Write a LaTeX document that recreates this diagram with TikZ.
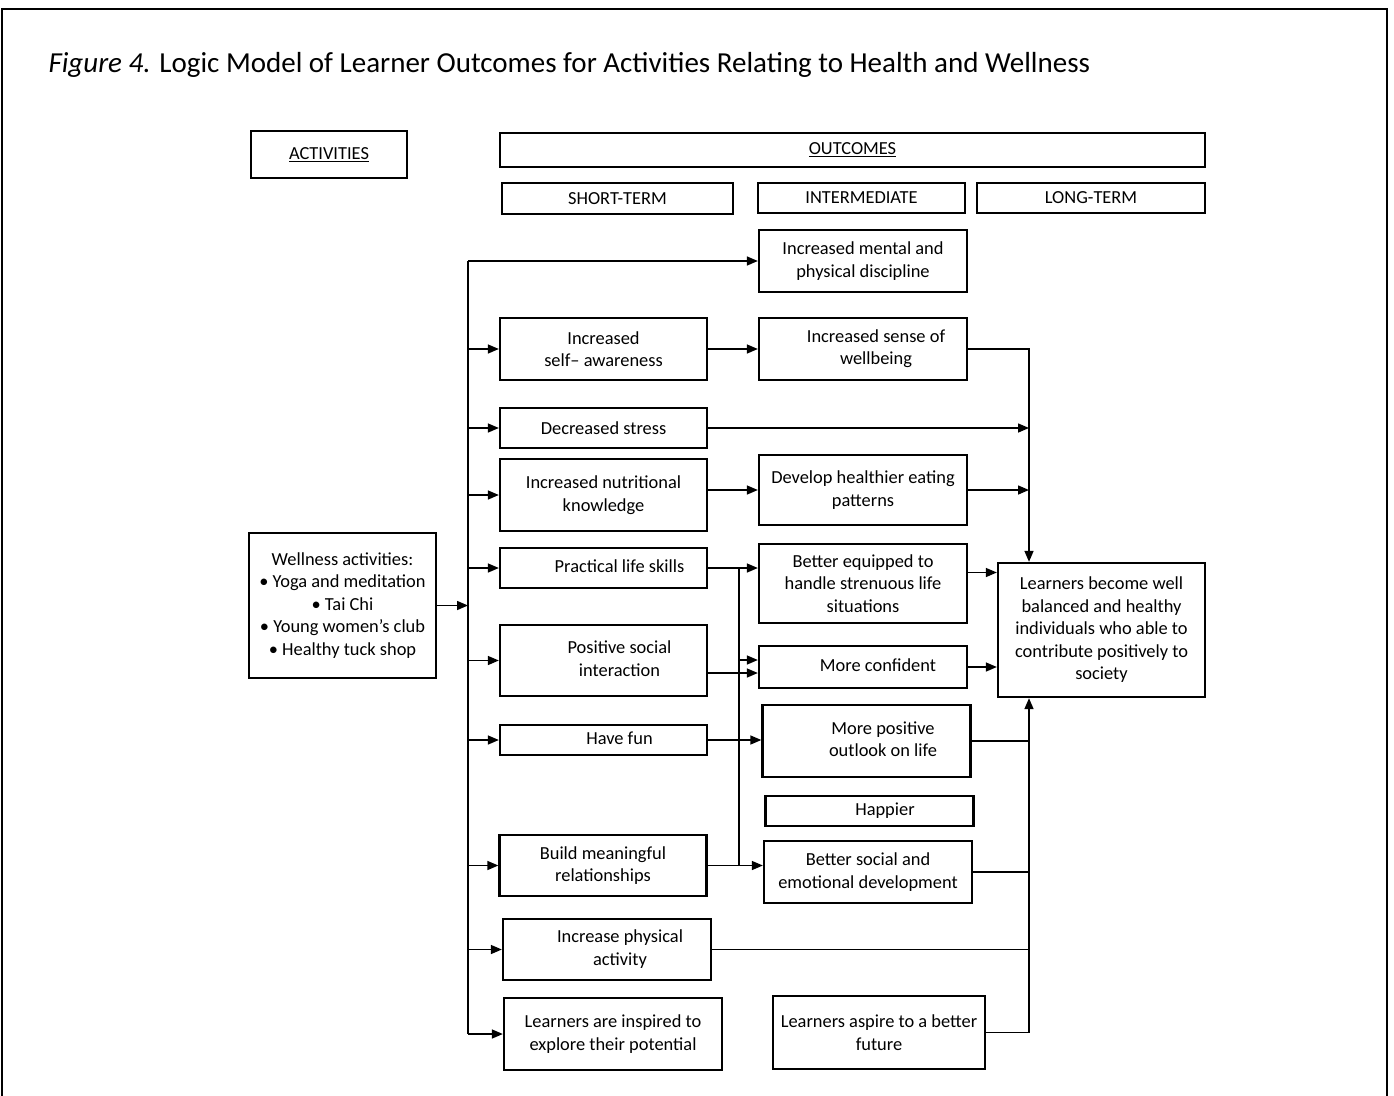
\documentclass[tikz,border=0pt]{standalone}
\usepackage{fontspec}
\setmainfont{Carlito}
\usepackage{tikz}
\usetikzlibrary{arrows.meta}
\tikzset{
    box/.style={draw, line width=2.3pt, align=center, inner sep=2pt, font=\fontsize{18.4}{22.5}\selectfont},
    stbox/.style={box, minimum width=207pt},
    imbox/.style={box, minimum width=208pt},
    ln/.style={line width=1.5pt},
    arr/.style={ln, -{Triangle[length=11pt,width=9pt]}}
}
% text set off to the right inside its box
\newcommand{\offtext}[2]{\hspace*{#1pt}\begin{tabular}{@{}c@{}}#2\end{tabular}}

\begin{document}
\begin{tikzpicture}[x=1pt,y=-1pt]
\useasboundingbox (0,0) rectangle (1394,1095);
\draw[line width=1.6pt] (2,1100) -- (2,9) -- (1387,9) -- (1387,1100);
\node[anchor=west, font=\fontsize{29}{34}\selectfont] (title) at (45,65) {\textit{Figure 4.} Logic Model of Learner Outcomes for Activities Relating to Health and Wellness};

% headings
\node[box, minimum width=156, minimum height=47] (acts) at (329,154.5) {\underline{ACTIVITIES}};
\node[box, minimum width=705, minimum height=34] (outc) at (852.5,150) {\underline{OUTCOMES}};
\node[box, minimum width=231, minimum height=31] (short) at (617.5,198.5) {SHORT-TERM};
\node[box, minimum width=207, minimum height=30] (inter) at (861.5,198) {INTERMEDIATE};
\node[box, minimum width=228, minimum height=30] (longt) at (1091,198) {LONG-TERM};

\node[box, minimum width=187, minimum height=145] (well) at (342.5,605.5) {Wellness activities:\\\textbullet{} Yoga and meditation\\\textbullet{} Tai Chi\\\textbullet{} Young women’s club\\\textbullet{} Healthy tuck shop};

% short-term
\node[stbox, minimum height=62] (aware) at (603.5,349) {Increased\\self– awareness};
\node[stbox, minimum height=40] (stress) at (603.5,428) {Decreased stress};
\node[stbox, minimum height=72] (nutri) at (603.5,495) {Increased nutritional\\knowledge};
\node[stbox, minimum height=40] (skills) at (603.5,568) {\offtext{32}{Practical life skills}};
\node[stbox, minimum height=71] (social) at (603.5,660.5) {\offtext{32}{Positive social\\interaction}};
\node[stbox, minimum height=30] (fun) at (603.5,740) {\offtext{32}{Have fun}};
\node[stbox, minimum height=61] (relat) at (603,865.5) {Build meaningful\\relationships};
\node[stbox, minimum width=208, minimum height=61] (phys) at (607,949.5) {\offtext{26}{Increase physical\\activity}};
\node[stbox, minimum width=218, minimum height=72] (inspire) at (613,1034) {Learners are inspired to\\explore their potential};

% intermediate
\node[imbox, minimum height=62] (mind) at (863,261) {Increased mental and\\physical discipline};
\node[imbox, minimum height=62] (wellb) at (863,349) {\offtext{26}{Increased sense of\\wellbeing}};
\node[imbox, minimum height=70] (eating) at (863,490) {Develop healthier eating\\patterns};
\node[imbox, minimum height=79] (equip) at (863,583.5) {Better equipped to\\handle strenuous life\\situations};
\node[imbox, minimum height=42] (conf) at (863,667) {\offtext{30}{More confident}};
\node[imbox, minimum height=72] (outlook) at (866.5,741) {\offtext{33}{More positive\\outlook on life}};
\node[imbox, minimum height=30] (happy) at (869.5,811) {\offtext{31}{Happier}};
\node[imbox, minimum height=62] (social2) at (868,872) {Better social and\\emotional development};
\node[imbox, minimum width=212, minimum height=73] (aspire) at (879,1032.5) {Learners aspire to a better\\future};

% long-term
\node[box, minimum width=207, minimum height=134] (long) at (1101.5,630) {Learners become well\\balanced and healthy\\individuals who able to\\contribute positively to\\society};

\coordinate (tx) at (468,261);
\coordinate (bx) at (739,570);
\coordinate (rx) at (1029,352);
\coordinate (ein) at ([yshift=11pt]equip.east);
\coordinate (cin) at ([yshift=7pt]conf.west);
\coordinate (cin2) at ([yshift=-6pt]conf.west);

% activities trunk
\draw[ln] (tx) -- (tx |- inspire.west);
\draw[arr] (tx) -- (mind.west);
\draw[arr] (well.east) -- (well.east -| tx);
\foreach \n in {aware,stress,nutri,skills,social,fun,relat,phys,inspire}
  \draw[arr] (\n.west -| tx) -- (\n.west);

% short-term to intermediate
\draw[arr] (aware.east) -- (wellb.west);
\draw[arr] (nutri.east |- eating.west) -- (eating.west);
\draw[arr] (skills.east) -- (skills.east -| equip.west);
\draw[ln] (skills.east -| bx) -- (relat.east -| bx);
\draw[arr] (bx |- cin) -- (cin);
\draw[arr] (social.east |- cin2) -- (cin2);
\draw[arr] (fun.east) -- (fun.east -| outlook.west);
\draw[arr] (relat.east) -- (relat.east -| social2.west);

% into long-term
\draw[arr] (wellb.east) -| (rx |- long.north);
\draw[arr] (stress.east) -- (stress.east -| rx);
\draw[arr] (eating.east) -- (eating.east -| rx);
\draw[arr] (ein) -- (ein -| long.west);
\draw[arr] (conf.east) -- (conf.east -| long.west);
\draw[arr] (aspire.east) -| (rx |- long.south);
\foreach \n in {outlook,social2,phys}
  \draw[ln] (\n.east) -- (\n.east -| rx);

\end{tikzpicture}
\end{document}
